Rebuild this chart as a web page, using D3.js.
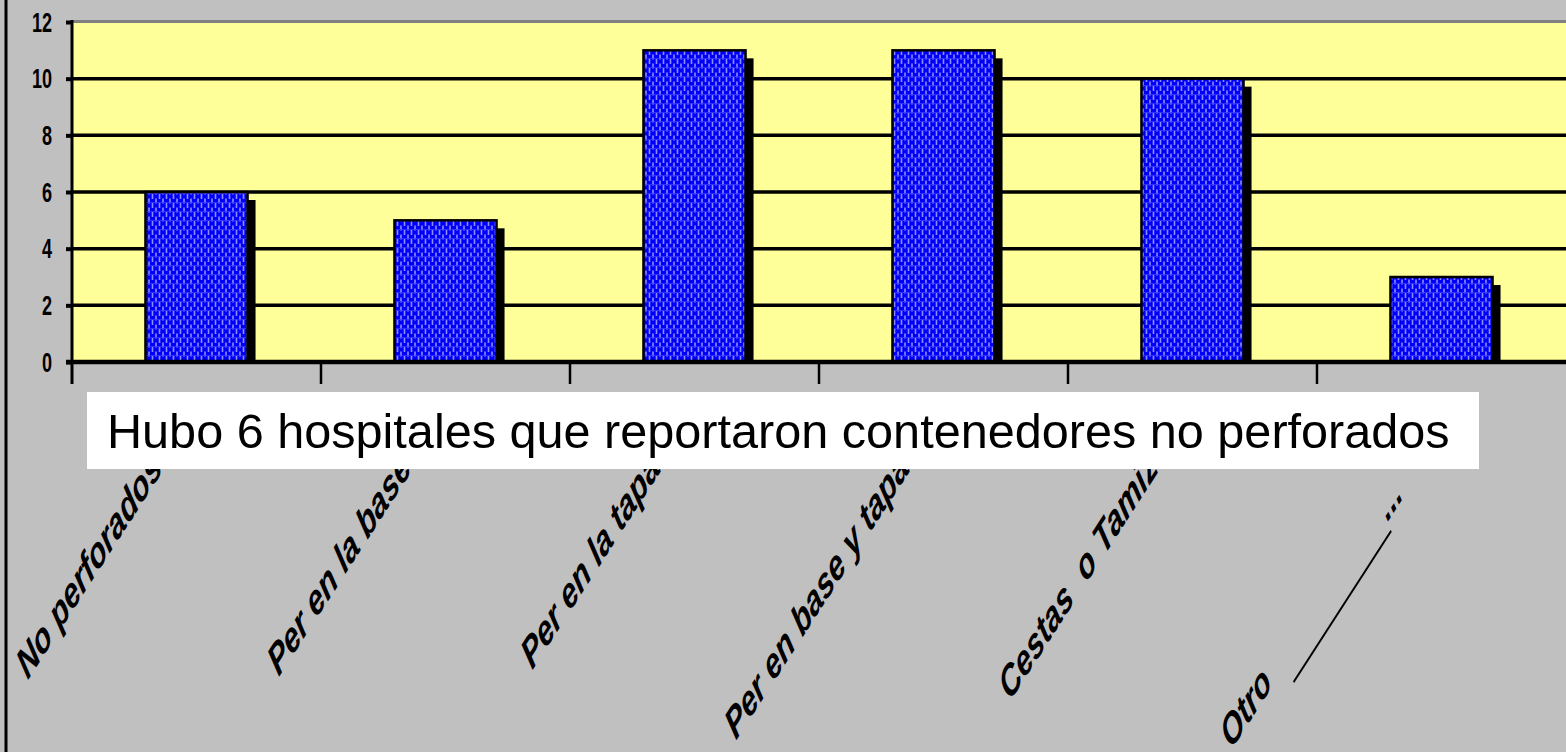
<!DOCTYPE html>
<html>
<head>
<meta charset="utf-8">
<script src="https://cdnjs.cloudflare.com/ajax/libs/d3/7.8.5/d3.min.js"></script>
<style>
  html, body { margin: 0; padding: 0; background: #c0c0c0; }
  svg { display: block; }
</style>
</head>
<body>
<div id="vis"></div>
<script>
// data
let categories = ["No perforados", "Per en la base", "Per en la tapa",
                  "Per en base y tapa", "Cestas  o Tamiz", "Otro"];
let values = [6, 5, 11, 11, 10, 3];
let yTicks = [0, 2, 4, 6, 8, 10, 12];
let note = "Hubo 6 hospitales que reportaron contenedores no perforados";

let width = 1566;
let height = 752;
let plot = {left: 72, right: 1566, top: 22, bottom: 362};
// the chart was pasted squeezed sideways, so text is narrowed too
let squeeze = 0.645;

let svg = d3.select("#vis")
        .append("svg")
        .attr("width", width)
        .attr("height", height);

// bar fill pattern
let defs = svg.append("defs");
let pat = defs.append("pattern")
        .attr("id", "weave")
        .attr("patternUnits", "userSpaceOnUse")
        .attr("width", 7)
        .attr("height", 9);
pat.append("rect").attr("width", 7).attr("height", 9).attr("fill", "#0000f8");
pat.append("rect").attr("x", 1.2).attr("y", 0.5).attr("width", 1.6).attr("height", 5).attr("fill", "#8c8cff");
pat.append("rect").attr("x", 4.7).attr("y", 5).attr("width", 1.6).attr("height", 5).attr("fill", "#8c8cff");
pat.append("rect").attr("x", 4.7).attr("y", -4).attr("width", 1.6).attr("height", 5).attr("fill", "#8c8cff");
pat.append("rect").attr("x", 0).attr("y", 4).attr("width", 7).attr("height", 0.8).attr("fill", "#3a3aff");

svg.append("rect")
  .attr("width", width)
  .attr("height", height)
  .attr("fill", "#c0c0c0");

// left frame line
svg.append("line")
  .attr("x1", 6).attr("x2", 6)
  .attr("y1", 0).attr("y2", height)
  .attr("stroke", "black")
  .attr("stroke-width", 3);

let x = d3.scaleBand()
        .domain(categories)
        .range([plot.left, plot.right])
        .paddingInner(0)
        .paddingOuter(0);

let y = d3.scaleLinear()
        .domain([0, 12])
        .range([plot.bottom, plot.top]);

// plot area
svg.append("rect")
  .attr("x", plot.left)
  .attr("y", y(12))
  .attr("width", plot.right - plot.left)
  .attr("height", y(0) - y(12))
  .attr("fill", "#ffff99");

// gridlines
svg.append("g")
  .selectAll("line")
  .data(yTicks.filter(d => d > 0 && d < 12))
  .join("line")
    .attr("x1", plot.left)
    .attr("x2", plot.right)
    .attr("y1", d => y(d))
    .attr("y2", d => y(d))
    .attr("stroke", "black")
    .attr("stroke-width", 3.5);

svg.append("line")
  .attr("x1", plot.left)
  .attr("x2", plot.right)
  .attr("y1", y(12) - 0.5)
  .attr("y2", y(12) - 0.5)
  .attr("stroke", "#808080")
  .attr("stroke-width", 3);

let barW = x.bandwidth() * 0.41;
let shadow = 8;

// shadows
svg.append("g")
  .selectAll("rect")
  .data(values)
  .join("rect")
    .attr("x", (d, i) => x(categories[i]) + (x.bandwidth() - barW) / 2 + shadow)
    .attr("y", d => y(d) + shadow)
    .attr("width", barW)
    .attr("height", d => y(0) - y(d) - shadow)
    .attr("fill", "black");

// bars
svg.append("g")
  .selectAll("rect")
  .data(values)
  .join("rect")
    .attr("x", (d, i) => x(categories[i]) + (x.bandwidth() - barW) / 2)
    .attr("y", d => y(d))
    .attr("width", barW)
    .attr("height", d => y(0) - y(d))
    .attr("fill", "url(#weave)")
    .attr("stroke", "black")
    .attr("stroke-width", 2.5);

// y axis
let yAxis = d3.axisLeft(y)
        .tickValues(yTicks)
        .tickSize(6)
        .tickFormat("");

svg.append("g")
  .attr("transform", "translate(" + plot.left + ",0)")
  .call(yAxis)
  .call(g => g.select(".domain").remove())
  .call(g => g.selectAll("line").attr("stroke", "black").attr("stroke-width", 4));

svg.append("line")
  .attr("x1", plot.left).attr("x2", plot.left)
  .attr("y1", y(12) - 2).attr("y2", y(0) + 22)
  .attr("stroke", "black")
  .attr("stroke-width", 3);

svg.append("g")
  .selectAll("text")
  .data(yTicks)
  .join("text")
    .attr("transform", d => "translate(52," + y(d) + ") scale(" + squeeze + ",1)")
    .attr("dy", "0.35em")
    .attr("text-anchor", "end")
    .attr("font-family", "'Liberation Sans', Arial, sans-serif")
    .attr("font-weight", "bold")
    .attr("font-size", 28)
    .attr("fill", "black")
    .text(d => d);

// x axis line and ticks at category edges
svg.append("line")
  .attr("x1", plot.left - 6)
  .attr("x2", plot.right)
  .attr("y1", y(0))
  .attr("y2", y(0))
  .attr("stroke", "black")
  .attr("stroke-width", 4.5);

svg.append("g")
  .selectAll("line")
  .data(categories.slice(1))
  .join("line")
    .attr("x1", d => x(d))
    .attr("x2", d => x(d))
    .attr("y1", y(0))
    .attr("y2", y(0) + 22)
    .attr("stroke", "black")
    .attr("stroke-width", 2.5);

// category labels, rotated and squeezed
let labelFont = "'Liberation Sans', Arial, sans-serif";
let labels = svg.append("g");
categories.forEach((c, i) => {
  let cx = x(c) + x.bandwidth() / 2;
  let g = labels.append("g")
        .attr("transform", "translate(" + (cx - 33) + ",470) scale(" + squeeze + ",1) rotate(-45)")
        .attr("font-family", labelFont)
        .attr("font-weight", "bold")
        .attr("font-style", "italic")
        .attr("font-size", 43.6);
  if (c == "Otro") {
    g.append("text")
      .attr("x", -300)
      .attr("y", 4)
      .attr("text-anchor", "end")
      .text(c);
    g.append("line")
      .attr("x1", -276).attr("y1", 24)
      .attr("x2", -62).attr("y2", 24)
      .attr("stroke", "black")
      .attr("stroke-width", 2.6);
    g.append("text")
      .attr("x", -60)
      .attr("y", 14)
      .text("...");
  } else {
    g.append("text")
      .attr("text-anchor", "end")
      .style("white-space", "pre")
      .text(c);
  }
});

// annotation box
svg.append("rect")
  .attr("x", 87)
  .attr("y", 392)
  .attr("width", 1392)
  .attr("height", 77)
  .attr("fill", "white");

svg.append("text")
  .attr("x", 107)
  .attr("y", 448)
  .attr("font-family", "'Liberation Sans', Arial, sans-serif")
  .attr("font-size", 48.6)
  .attr("fill", "black")
  .text(note);
</script>
</body>
</html>
